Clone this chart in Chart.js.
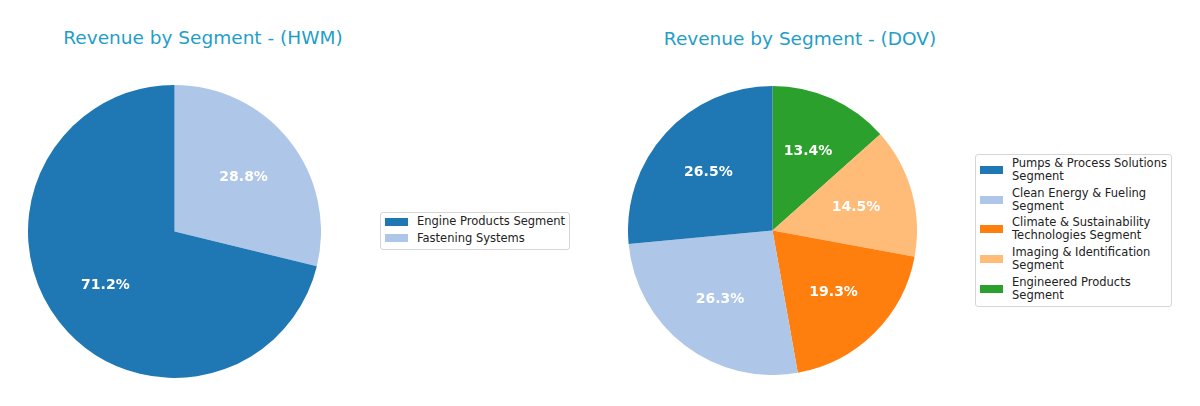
<!DOCTYPE html>
<html>
<head>
<meta charset="utf-8">
<script src="https://cdn.jsdelivr.net/npm/chart.js@4.4.1/dist/chart.umd.min.js"></script>
<style>
  body { margin: 0; background: #fff; }
  #wrap { position: relative; width: 1200px; height: 406px; overflow: hidden; font-family: "DejaVu Sans", sans-serif; }
  .title { position: absolute; font-size: 18.5px; color: #1f9ec7; white-space: nowrap; transform: translate(-50%, -50%); }
  canvas { position: absolute; }
  .legend { position: absolute; border: 1px solid #d6d6d6; border-radius: 3px; padding: 2px 4px 4px 4px; background: #fff; }
  .legend .item { display: flex; align-items: center; margin-bottom: 3.7px; }
  .legend .item:last-child { margin-bottom: 0; }
  .legend .patch { width: 23px; height: 8px; margin-right: 9px; flex: none; }
  .legend .txt { font-size: 11.5px; line-height: 13px; color: #222; white-space: pre; }
</style>
</head>
<body>
<div id="wrap">
  <div class="title" style="left:203px; top:37px;">Revenue by Segment - (HWM)</div>
  <div class="title" style="left:800px; top:38px;">Revenue by Segment - (DOV)</div>
  <canvas id="pieHwm" width="293" height="293" style="left:28px; top:84.5px;"></canvas>
  <canvas id="pieDov" width="289" height="289" style="left:628px; top:86px;"></canvas>
  <div class="legend" id="legHwm" style="left:380px; top:212px;"></div>
  <div class="legend" id="legDov" style="left:975px; top:154px;"></div>
</div>
<script>
"use strict";

// HWM segments
var hwmLabels = ['Engine Products Segment', 'Fastening Systems'];
var hwmValues = [71.2, 28.8];
var hwmColors = ['#1f77b4', '#aec7e8'];

// DOV segments
var dovLabels = [
  'Pumps & Process Solutions\nSegment',
  'Clean Energy & Fueling\nSegment',
  'Climate & Sustainability\nTechnologies Segment',
  'Imaging & Identification\nSegment',
  'Engineered Products\nSegment'
];
var dovValues = [26.5, 26.3, 19.3, 14.5, 13.4];
var dovColors = ['#1f77b4', '#aec7e8', '#ff7f0e', '#ffbb78', '#2ca02c'];

// percent labels at 0.6 of the radius, like matplotlib autopct
var pctLabels = {
  id: 'pctLabels',
  afterDatasetsDraw: function (chart) {
    var ctx = chart.ctx;
    var meta = chart.getDatasetMeta(0);
    var data = chart.data.datasets[0].data;
    var total = data.reduce(function (a, b) { return a + b; }, 0);
    ctx.save();
    ctx.font = 'bold 14px "DejaVu Sans", sans-serif';
    ctx.fillStyle = '#ffffff';
    ctx.textAlign = 'center';
    ctx.textBaseline = 'middle';
    meta.data.forEach(function (arc, i) {
      var p = arc.getProps(['x', 'y', 'startAngle', 'endAngle', 'outerRadius'], true);
      var mid = (p.startAngle + p.endAngle) / 2;
      var r = p.outerRadius * 0.6;
      ctx.fillText((data[i] / total * 100).toFixed(1) + '%', p.x + Math.cos(mid) * r, p.y + Math.sin(mid) * r);
    });
    ctx.restore();
  }
};

// matplotlib goes counter-clockwise from the top, Chart.js clockwise: feed reversed
function makePie(id, labels, values, colors) {
  return new Chart(document.getElementById(id).getContext('2d'), {
    type: 'pie',
    data: {
      labels: labels.slice().reverse(),
      datasets: [{
        data: values.slice().reverse(),
        backgroundColor: colors.slice().reverse(),
        borderWidth: 0
      }]
    },
    options: {
      responsive: false,
      animation: false,
      layout: { padding: 0 },
      plugins: {
        legend: { display: false },
        title: { display: false },
        tooltip: { enabled: false }
      }
    },
    plugins: [pctLabels]
  });
}

function makeLegend(id, labels, colors) {
  var box = document.getElementById(id);
  labels.forEach(function (lab, i) {
    var item = document.createElement('div');
    item.className = 'item';
    var patch = document.createElement('span');
    patch.className = 'patch';
    patch.style.background = colors[i];
    var txt = document.createElement('span');
    txt.className = 'txt';
    txt.textContent = lab;
    item.appendChild(patch);
    item.appendChild(txt);
    box.appendChild(item);
  });
}

makePie('pieHwm', hwmLabels, hwmValues, hwmColors);
makePie('pieDov', dovLabels, dovValues, dovColors);
makeLegend('legHwm', hwmLabels, hwmColors);
makeLegend('legDov', dovLabels, dovColors);
</script>
</body>
</html>
